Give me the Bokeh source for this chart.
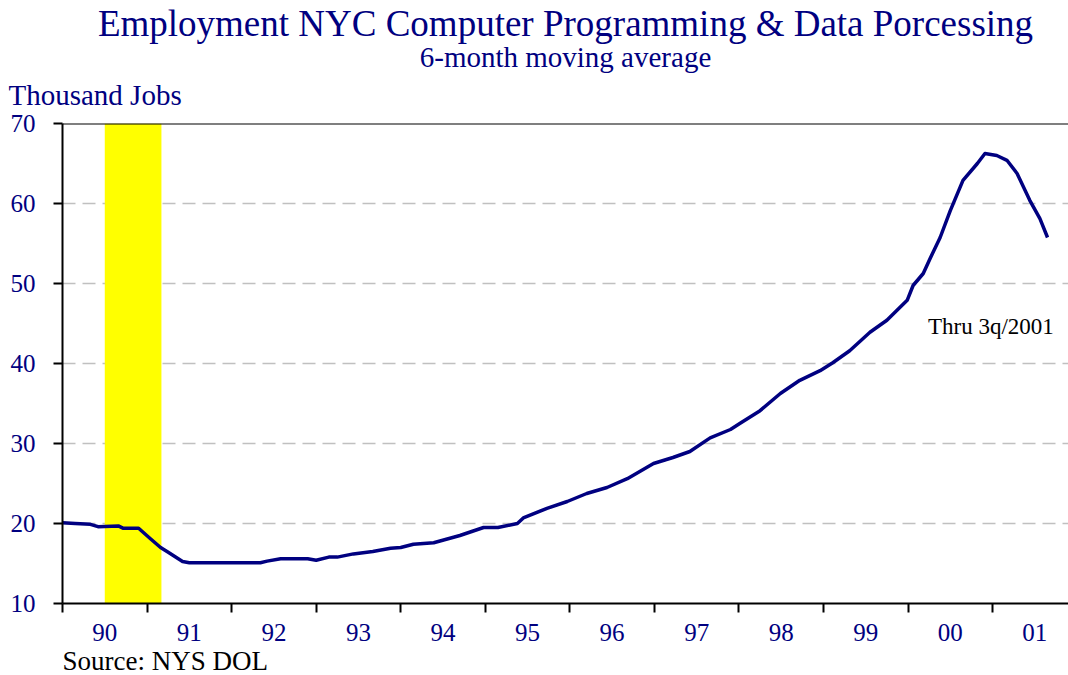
from bokeh.plotting import figure
from bokeh.models import (Range1d, FixedTicker, Label, Span, ColumnDataSource, Title)
from bokeh.embed import file_html
from bokeh.resources import INLINE

# ---- data ----
dates = [1990.00, 1990.15, 1990.33, 1990.42, 1990.66, 1990.72, 1990.90, 1991.04,
         1991.16, 1991.25, 1991.42, 1991.50, 1991.80, 1992.10, 1992.34, 1992.42,
         1992.58, 1992.90, 1993.00, 1993.15, 1993.25, 1993.44, 1993.67, 1993.88,
         1994.00, 1994.15, 1994.39, 1994.70, 1994.98, 1995.15, 1995.38, 1995.45,
         1995.73, 1995.97, 1996.20, 1996.44, 1996.68, 1996.99, 1997.22, 1997.42,
         1997.66, 1997.90, 1998.01, 1998.25, 1998.49, 1998.72, 1998.96, 1999.11,
         1999.31, 1999.55, 1999.75, 1999.99, 2000.06, 2000.18, 2000.26, 2000.38,
         2000.50, 2000.65, 2000.82, 2000.91, 2001.05, 2001.17, 2001.29, 2001.44,
         2001.56, 2001.65]
jobs = [20.1, 20.0, 19.9, 19.6, 19.7, 19.4, 19.4, 18.1,
        17.0, 16.4, 15.25, 15.1, 15.1, 15.1, 15.1, 15.3,
        15.6, 15.6, 15.4, 15.8, 15.8, 16.2, 16.5, 16.9,
        17.0, 17.4, 17.6, 18.5, 19.5, 19.5, 20.0, 20.7,
        21.9, 22.75, 23.75, 24.5, 25.6, 27.5, 28.25, 29.0,
        30.7, 31.75, 32.5, 34.1, 36.25, 37.9, 39.1, 40.1,
        41.6, 43.9, 45.4, 47.9, 49.75, 51.25, 53.1, 55.75,
        59.1, 62.9, 65.0, 66.25, 66.0, 65.4, 63.75, 60.4,
        58.1, 55.75]

recession_start = [1990.5]
recession_end = [1991.17]

year_starts = list(range(1990, 2003))
year_labels = ["90", "91", "92", "93", "94", "95", "96", "97", "98", "99", "00", "01"]
y_ticks = [10, 20, 30, 40, 50, 60, 70]
y_labels = ["10", "20", "30", "40", "50", "60", "70"]

NAVY = "#000080"
FONT = "Liberation Serif"

p = figure(width=1068, height=675, output_backend="svg", toolbar_location=None,
           x_range=Range1d(1990, 2001.898), y_range=Range1d(10, 70),
           min_border_left=62, min_border_right=0, min_border_top=123,
           min_border_bottom=72)
p.outline_line_color = None
p.background_fill_color = "white"
p.border_fill_color = "white"

# recession band
p.quad(left=recession_start, right=recession_end, bottom=[10], top=[70],
       fill_color="#FFFF00", line_color=None)

# line
src = ColumnDataSource(dict(x=dates, y=jobs))
p.line("x", "y", source=src, line_color=NAVY, line_width=3.5, line_join="round")

# top border
p.add_layout(Span(location=70, dimension="width", line_color="black", line_width=2))

# grid
p.xgrid.visible = False
p.ygrid.ticker = FixedTicker(ticks=y_ticks)
p.ygrid.grid_line_color = "#C0C0C0"
p.ygrid.grid_line_width = 1.5
p.ygrid.grid_line_dash = "13 7"

# y axis
ya = p.yaxis[0]
ya.ticker = FixedTicker(ticks=y_ticks)
ya.major_label_overrides = {t: l for t, l in zip(y_ticks, y_labels)}
ya.axis_line_color = "black"
ya.axis_line_width = 2
ya.major_tick_out = 9
ya.major_tick_in = 0
ya.major_tick_line_width = 2
ya.minor_tick_line_color = None
ya.major_label_text_font = FONT
ya.major_label_text_font_size = "25px"
ya.major_label_text_color = NAVY
ya.major_label_standoff = 18

# x axis
xa = p.xaxis[0]
mids = [y + 0.5 for y in year_starts[:len(year_labels)]]
xa.ticker = FixedTicker(ticks=mids, minor_ticks=year_starts)
xa.major_label_overrides = {m: l for m, l in zip(mids, year_labels)}
xa.axis_line_color = "black"
xa.axis_line_width = 2
xa.major_tick_out = 0
xa.major_tick_in = 0
xa.major_tick_line_color = None
xa.minor_tick_out = 9
xa.minor_tick_in = 0
xa.minor_tick_line_color = "black"
xa.minor_tick_line_width = 2
xa.major_label_text_font = FONT
xa.major_label_text_font_size = "25px"
xa.major_label_text_color = NAVY
xa.major_label_standoff = 11

# titles above the frame (first added = nearest the frame)
p.title.text = "Employment NYC Computer Programming & Data Porcessing"
p.title.align = "center"
p.title.text_font = FONT
p.title.text_font_size = "37px"
p.title.text_font_style = "normal"
p.title.text_color = NAVY
p.title.standoff = 0

p.add_layout(Title(text="Thousand Jobs", align="left", offset=-54, standoff=21,
                   vertical_align="top",
                   text_font=FONT, text_font_size="29px", text_font_style="normal",
                   text_color=NAVY), "above")
p.add_layout(Title(text="6-month moving average", align="center", standoff=-9,
                   text_font=FONT, text_font_size="29px", text_font_style="normal",
                   text_color=NAVY), "above")

# source line below the x axis
p.add_layout(Title(text="Source: NYS DOL", align="left", offset=0, standoff=0,
                   text_font=FONT, text_font_size="27px", text_font_style="normal",
                   text_color="black"), "below")

p.add_layout(Label(x=2000.236, y=44.6, text="Thru 3q/2001",
                   text_font=FONT, text_font_size="23px", text_color="black",
                   text_align="left", text_baseline="alphabetic"))

open("out.html", "w").write(file_html(p, INLINE))
